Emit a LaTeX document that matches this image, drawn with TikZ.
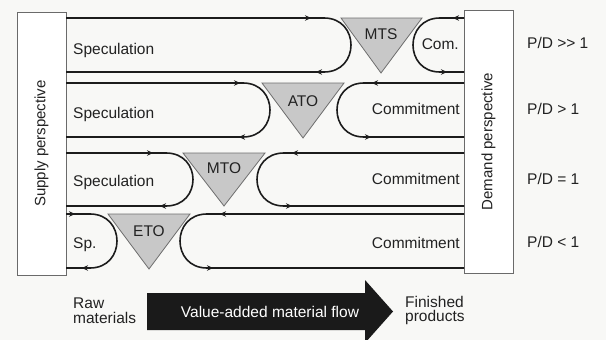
\documentclass[tikz,border=0pt]{standalone}
\usepackage{fontspec}
\setmainfont{Liberation Sans}
\usetikzlibrary{arrows.meta,decorations.markings}
\definecolor{bg}{HTML}{F8F8F6}
\definecolor{ink}{HTML}{222222}
\definecolor{flowline}{HTML}{1C1C1C}
\definecolor{trifill}{HTML}{C8C8C8}
\definecolor{triline}{HTML}{6E6E6E}
\definecolor{boxline}{HTML}{6A6A6A}
\definecolor{bigarrow}{HTML}{1A1A1A}
\begin{document}
\begin{tikzpicture}[x=1pt,y=-1pt,
  lbl/.style={font=\fontsize{15.5}{18}\selectfont, text=ink, inner sep=0pt},
  persp/.style={draw=boxline, line width=0.9pt, fill=white, minimum width=49pt, minimum height=263pt, inner sep=0pt, font=\fontsize{15}{18}\selectfont, text=ink},
  flow/.style 2 args={line width=1.6pt, draw=flowline, postaction={decorate},
    decoration={markings,
      mark=at position #1 with {\arrow{Stealth[length=6pt,width=5.5pt]}},
      mark=at position #2 with {\arrow{Stealth[length=6pt,width=5.5pt]}}}},
  tri/.style={fill=trifill, draw=triline, line width=0.8pt}]
\fill[bg] (0,0) rectangle (606,340);
\useasboundingbox (0,0) rectangle (606,340);

% perspective boxes
\node[persp] (supply) at (41.5,143.5) {\rotatebox{90}{Supply perspective}};
\node[persp] (demand) at (488.5,141.5) {\rotatebox{90}{Demand perspective}};

% anchor coordinates on the boxes
\coordinate (s1t) at (66,18);  \coordinate (s1b) at (66,72);
\coordinate (s2t) at (66,83);  \coordinate (s2b) at (66,137);
\coordinate (s3t) at (66,153); \coordinate (s3b) at (66,206);
\coordinate (s4t) at (66,214); \coordinate (s4b) at (66,268);
\coordinate (d1t) at (464,18);  \coordinate (d1b) at (464,72);
\coordinate (d2t) at (464,83);  \coordinate (d2b) at (464,137);
\coordinate (d3t) at (464,153); \coordinate (d3b) at (464,206);
\coordinate (d4t) at (464,214); \coordinate (d4b) at (464,268);

% triangles
\draw[tri] (341,18) -- (422,18) -- (381,73) -- cycle;
\draw[tri] (262,83) -- (344,83) -- (303,138) -- cycle;
\draw[tri] (183,153) -- (265,153) -- (224,206) -- cycle;
\draw[tri] (108,214) -- (190,214) -- (149,269) -- cycle;

% supply-side loops
\draw[flow={245pt}{-250pt}] (s1t) -- (324,18) .. controls (360,18) and (360,72) .. (324,72) -- (s1b);
\draw[flow={174pt}{-173pt}] (s2t) -- (243,83) .. controls (279,83) and (279,137) .. (243,137) -- (s2b);
\draw[flow={87pt}{-94pt}] (s3t) -- (166,153) .. controls (202,153) and (202,206) .. (166,206) -- (s3b);
\draw[flow={9pt}{-16pt}] (s4t) -- (90,214) .. controls (126,214) and (126,268) .. (90,268) -- (s4b);

% demand-side loops
\draw[flow={11pt}{-17pt}] (d1t) -- (440,18) .. controls (404,18) and (404,72) .. (440,72) -- (d1b);
\draw[flow={92pt}{-93pt}] (d2t) -- (364,83) .. controls (328,83) and (328,137) .. (364,137) -- (d2b);
\draw[flow={172pt}{-172pt}] (d3t) -- (284,153) .. controls (248,153) and (248,206) .. (284,206) -- (d3b);
\draw[flow={244pt}{-251pt}] (d4t) -- (207,214) .. controls (171,214) and (171,268) .. (207,268) -- (d4b);

% triangle labels
\node[lbl, anchor=base] (mts) at (381,39) {MTS};
\node[lbl, anchor=base] (ato) at (303,106) {ATO};
\node[lbl, anchor=base] (mto) at (224,173.5) {MTO};
\node[lbl, anchor=base] (eto) at (149,236.5) {ETO};

% row labels
\node[lbl, anchor=base west] (spec1) at (73,54) {Speculation};
\node[lbl, anchor=base west] (spec2) at (73,118) {Speculation};
\node[lbl, anchor=base west] (spec3) at (73,186) {Speculation};
\node[lbl, anchor=base west] (spec4) at (73,248.5) {Sp.};
\node[lbl, anchor=base east] (com1) at (459,49.5) {Com.};
\node[lbl, anchor=base east] (com2) at (460,114.5) {Commitment};
\node[lbl, anchor=base east] (com3) at (460,184.5) {Commitment};
\node[lbl, anchor=base east] (com4) at (460,248) {Commitment};

% P/D labels
\node[lbl, anchor=base west] (pd1) at (527,48.5) {P/D >{}> 1};
\node[lbl, anchor=base west] (pd2) at (527,114.5) {P/D > 1};
\node[lbl, anchor=base west] (pd3) at (527,184.5) {P/D = 1};
\node[lbl, anchor=base west] (pd4) at (527,247.5) {P/D < 1};

% bottom: material flow
\fill[bigarrow] (147,293) -- (365,293) -- (365,280) -- (393,311.5) -- (365,343) -- (365,330) -- (147,330) -- cycle;
\node[lbl, text=white, anchor=base] (vam) at (270,317) {Value-added material flow};
\node[lbl, anchor=north west, align=left, font=\fontsize{15.5}{15.5}\selectfont] (raw) at (73,297.5) {Raw\\materials};
\node[lbl, anchor=north west, align=left, font=\fontsize{15.5}{14.5}\selectfont] (fin) at (405,296) {Finished\\products};
\end{tikzpicture}
\end{document}
